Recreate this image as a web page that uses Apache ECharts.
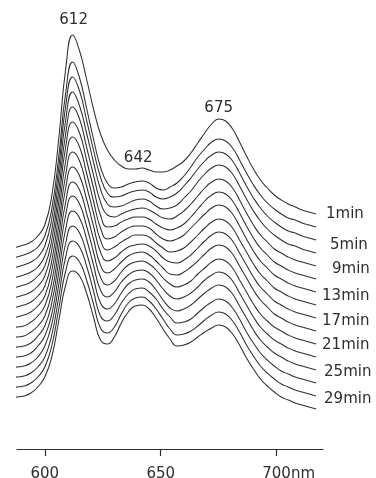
<!DOCTYPE html>
<html>
<head>
<meta charset="utf-8">
<style>
  html, body { margin: 0; padding: 0; background: #ffffff; }
  #chart { width: 376px; height: 478px; }
</style>
<script src="https://cdn.jsdelivr.net/npm/echarts@6/dist/echarts.min.js"></script>
</head>
<body>
<div id="chart"></div>
<script>
// Wavelength grid (nm), 3 nm steps, shared by every trace
const wavelengths = [585, 588, 591, 594, 597, 600, 603, 606, 609, 612, 615, 618, 621, 624, 627,
                     630, 633, 636, 639, 642, 645, 648, 651, 654, 657, 660, 663, 666, 669, 672,
                     675, 678, 681, 684, 687, 690, 693, 696, 699, 702, 705, 708, 711, 714, 717];

// Stacked absorption traces (arbitrary units, vertical offset included), one per reading time
const t01 = [201, 202, 204, 207, 213, 224, 253, 310, 380, 414, 398, 370, 340, 315, 299, 289, 283, 280, 280, 281, 279, 277, 277, 279, 283, 288, 296, 306, 316, 325, 330, 328, 320, 307, 293, 280, 269, 261, 254, 249, 245, 242, 239, 237, 235];
const t03 = [191, 192, 194, 197, 202, 213, 240, 292, 356, 387, 371, 341, 310, 282, 266, 261, 262, 265, 267, 268, 266, 261, 259, 262, 266, 273, 282, 292, 300, 307, 310, 308, 301, 289, 276, 264, 254, 246, 240, 235, 231, 229, 226, 224, 222];
const t05 = [181, 182, 184, 187, 192, 203, 230, 281, 343, 372, 358, 329, 299, 272, 256, 252, 253, 256, 258, 259, 257, 252, 250, 252, 256, 263, 271, 280, 288, 294, 297, 295, 288, 276, 263, 251, 241, 233, 227, 222, 218, 216, 213, 211, 209];
const t07 = [171, 172, 174, 177, 182, 193, 219, 270, 329, 357, 343, 316, 287, 260, 245, 242, 243, 246, 249, 250, 248, 243, 240, 241, 244, 251, 258, 267, 275, 281, 284, 282, 275, 263, 250, 238, 228, 220, 214, 209, 205, 203, 200, 198, 196];
const t09 = [161, 162, 164, 167, 173, 183, 209, 258, 315, 342, 330, 302, 274, 247, 234, 232, 235, 238, 240, 241, 239, 235, 231, 230, 233, 238, 245, 253, 261, 267, 270, 268, 261, 249, 236, 224, 214, 207, 200, 196, 192, 189, 187, 185, 183];
const t11 = [151, 152, 154, 157, 163, 173, 199, 247, 302, 327, 316, 289, 261, 234, 222, 223, 227, 230, 232, 232, 230, 225, 221, 219, 221, 225, 232, 240, 248, 254, 257, 255, 248, 236, 223, 211, 201, 194, 187, 183, 179, 176, 174, 172, 170];
const t13 = [141, 142, 144, 147, 153, 163, 188, 235, 288, 312, 302, 276, 248, 221, 210, 212, 217, 221, 223, 223, 221, 215, 210, 208, 210, 214, 221, 228, 235, 241, 244, 242, 235, 223, 210, 198, 188, 181, 174, 170, 166, 163, 161, 159, 157];
const t15 = [131, 132, 134, 137, 143, 153, 178, 223, 274, 297, 288, 263, 236, 209, 199, 202, 207, 211, 214, 214, 212, 206, 201, 197, 198, 201, 207, 214, 221, 227, 230, 228, 221, 209, 197, 185, 175, 168, 161, 157, 153, 150, 148, 146, 144];
const t17 = [121, 122, 123, 127, 133, 143, 167, 212, 261, 282, 273, 250, 223, 197, 188, 191, 197, 202, 204, 205, 203, 198, 191, 187, 186, 189, 194, 201, 208, 214, 217, 215, 208, 196, 184, 172, 162, 155, 148, 144, 140, 137, 135, 133, 131];
const t19 = [111, 112, 113, 117, 123, 133, 156, 200, 247, 267, 259, 236, 210, 184, 176, 180, 187, 193, 196, 197, 194, 188, 181, 175, 174, 177, 182, 188, 195, 201, 204, 202, 195, 183, 171, 159, 149, 142, 135, 131, 127, 124, 122, 120, 118];
const t21 = [101, 102, 103, 106, 113, 123, 146, 188, 234, 253, 245, 223, 197, 172, 164, 168, 177, 184, 187, 188, 185, 179, 171, 165, 162, 164, 168, 175, 181, 187, 190, 188, 181, 169, 157, 145, 135, 128, 122, 118, 114, 111, 109, 107, 105];
const t23 = [91, 92, 93, 96, 103, 113, 135, 176, 220, 238, 231, 210, 184, 159, 152, 157, 167, 174, 178, 179, 176, 169, 160, 153, 150, 152, 156, 162, 169, 174, 177, 175, 168, 156, 144, 132, 122, 115, 109, 105, 101, 98, 96, 94, 92];
const t25 = [81, 82, 83, 86, 92, 103, 125, 164, 206, 223, 216, 196, 171, 146, 140, 145, 156, 165, 169, 170, 167, 159, 149, 141, 138, 140, 144, 150, 156, 161, 164, 162, 155, 143, 131, 119, 109, 102, 96, 92, 88, 85, 83, 81, 79];
const t27 = [71, 72, 73, 76, 82, 92, 114, 152, 192, 208, 202, 183, 158, 133, 128, 134, 146, 155, 160, 161, 157, 150, 140, 132, 126, 127, 130, 136, 142, 147, 150, 148, 141, 130, 117, 106, 96, 89, 83, 78, 75, 72, 70, 68, 66];
const t29 = [61, 62, 63, 66, 72, 82, 103, 140, 178, 193, 187, 169, 145, 121, 116, 122, 135, 146, 151, 152, 148, 140, 130, 120, 114, 115, 118, 123, 129, 134, 137, 135, 128, 117, 104, 93, 83, 76, 70, 65, 62, 59, 57, 55, 53];
const t31 = [51, 52, 53, 56, 62, 72, 92, 128, 164, 178, 173, 156, 132, 109, 105, 112, 126, 137, 143, 144, 140, 131, 120, 110, 103, 104, 107, 112, 117, 121, 124, 122, 115, 104, 91, 80, 70, 63, 57, 52, 49, 46, 44, 42, 40];

const traces = [t01, t03, t05, t07, t09, t11, t13, t15, t17, t19, t21, t23, t25, t27, t29, t31];
const traceNames = ['1min', '3min', '5min', '7min', '9min', '11min', '13min', '15min',
                    '17min', '19min', '21min', '23min', '25min', '27min', '29min', '31min'];
const labelledTraces = ['1min', '5min', '9min', '13min', '17min', '21min', '25min', '29min'];

// Axis ticks and band maxima marked on the first trace
const tickValues = [600, 650, 700];
const axisUnit = 'nm';
const bandMaxima = [612, 642, 675];

// Styling
const FONT = '"DejaVu Sans", sans-serif';
const INK = '#2e2e2e';
const endLabelShift = {
  '1min': [4, 0], '5min': [8, 5], '9min': [10, 3], '13min': [0, 4],
  '17min': [0, 3], '21min': [0, 1], '25min': [2, 2], '29min': [2, 3]
};
const bandLabelShift = { 612: [1, -15], 642: [-4, -10], 675: [0, -11] };

const chart = echarts.init(document.getElementById('chart'), null, { renderer: 'canvas' });

const series = traces.map((vals, i) => {
  const name = traceNames[i];
  const s = {
    name: name,
    type: 'line',
    data: vals.map((v, j) => [wavelengths[j], v]),
    smooth: true,
    symbol: 'none',
    showSymbol: false,
    clip: false,
    silent: true,
    animation: false,
    lineStyle: { color: INK, width: 1.05 },
    endLabel: {
      show: labelledTraces.includes(name),
      formatter: () => name,
      distance: 6,
      offset: endLabelShift[name] || [0, 0],
      color: INK,
      fontFamily: FONT,
      fontSize: 15
    }
  };
  if (i === 0) {
    s.markPoint = {
      symbol: 'circle',
      symbolSize: 1,
      silent: true,
      animation: false,
      itemStyle: { color: 'rgba(0,0,0,0)' },
      label: {
        show: true,
        position: 'inside',
        color: INK,
        fontFamily: FONT,
        fontSize: 15,
        formatter: p => p.name
      },
      data: bandMaxima.map(w => ({
        name: String(w),
        coord: [w, vals[wavelengths.indexOf(w)]],
        label: { offset: bandLabelShift[w] }
      }))
    };
  }
  return s;
});

chart.setOption({
  animation: false,
  backgroundColor: '#ffffff',
  grid: { left: 17, right: 53, top: 19, bottom: 29, containLabel: false, outerBoundsMode: 'none' },
  xAxis: {
    type: 'value',
    min: 588,
    max: 720,
    splitLine: { show: false },
    axisLine: { show: true, onZero: false, lineStyle: { color: INK, width: 1.2 } },
    axisTick: { show: true, customValues: tickValues, length: 7, lineStyle: { color: INK, width: 1.2 } },
    axisLabel: {
      show: true,
      customValues: tickValues,
      margin: 18,
      color: INK,
      fontFamily: FONT,
      fontSize: 15,
      formatter: v => v === tickValues[tickValues.length - 1] ? '{pad|}' + v + axisUnit : String(v),
      rich: { pad: { width: 24 } }
    }
  },
  yAxis: { type: 'value', min: 0, max: 430, show: false },
  series: series
});
</script>
</body>
</html>
